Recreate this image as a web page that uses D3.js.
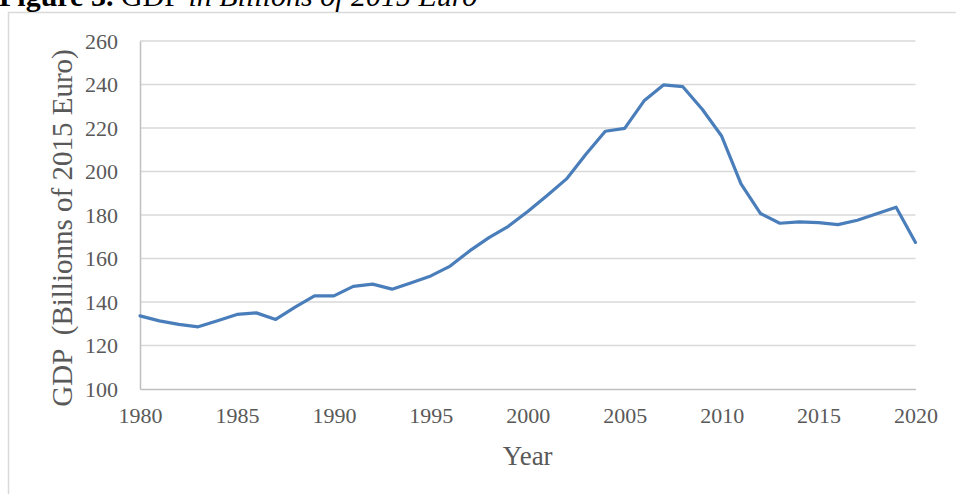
<!DOCTYPE html>
<html>
<head>
<meta charset="utf-8">
<script src="https://cdn.jsdelivr.net/npm/d3@7"></script>
<style>
  html, body { margin: 0; padding: 0; background: #fff; }
  svg { display: block; font-family: "Liberation Serif", "Times New Roman", serif; }
</style>
</head>
<body>
<svg id="chart" width="956" height="494"></svg>
<script>
// Real GDP, billions of 2015 euro, 1980–2020
const years = d3.range(1980, 2021);
const gdp = [
  133.6, 131.3, 129.7, 128.6, 131.4, 134.3, 135.0, 132.0, 137.6, 142.8,
  142.8, 147.2, 148.2, 145.9, 148.9, 152.0, 156.5, 163.5, 169.6, 174.8,
  181.6, 189.0, 196.6, 207.9, 218.5, 219.8, 232.5, 239.8, 239.0, 228.6,
  216.3, 194.3, 180.7, 176.2, 176.8, 176.5, 175.6, 177.6, 180.6, 183.6,
  167.4
];
const xTicks = [1980, 1985, 1990, 1995, 2000, 2005, 2010, 2015, 2020];
const yTicks = [100, 120, 140, 160, 180, 200, 220, 240, 260];

const svg = d3.select("#chart");
const plot = { left: 140, right: 915.5, top: 41, bottom: 389 };

const x = d3.scaleLinear().domain([1980, 2020]).range([plot.left, plot.right]);
const y = d3.scaleLinear().domain([100, 260]).range([plot.bottom, plot.top]);

// outer chart frame
svg.append("rect")
  .attr("x", 8.5).attr("y", 12.5)
  .attr("width", 960).attr("height", 500)
  .attr("fill", "none").attr("stroke", "#d9d9d9").attr("stroke-width", 1.5);

// caption above the frame
const cap = svg.append("text").attr("x", -1).attr("y", 6)
  .attr("font-size", 30).attr("fill", "#000");
cap.append("tspan").attr("font-weight", "bold").text("Figure 3.");
cap.append("tspan").text(" GDP");
cap.append("tspan").attr("font-style", "italic").text(" in Billions of 2015 Euro");

// horizontal gridlines
svg.append("g")
  .selectAll("line")
  .data(yTicks.filter(d => d !== 100))
  .join("line")
  .attr("x1", plot.left).attr("x2", plot.right)
  .attr("y1", d => y(d)).attr("y2", d => y(d))
  .attr("stroke", "#d9d9d9").attr("stroke-width", 1.5);

// y axis
const yAxis = svg.append("g")
  .attr("transform", `translate(${plot.left},0)`)
  .call(d3.axisLeft(y).tickValues(yTicks).tickSize(0).tickPadding(22));
yAxis.select(".domain").attr("stroke", "#bfbfbf").attr("stroke-width", 1.5);
yAxis.selectAll("text")
  .attr("font-family", "Liberation Serif, Times New Roman, serif")
  .attr("font-size", 22).attr("fill", "#595959");

// x axis
const xAxis = svg.append("g")
  .attr("transform", `translate(0,${plot.bottom})`)
  .call(d3.axisBottom(x).tickValues(xTicks).tickFormat(d3.format("d")).tickSize(0).tickPadding(18));
xAxis.select(".domain").attr("stroke", "#bfbfbf").attr("stroke-width", 1.5);
xAxis.selectAll("text")
  .attr("font-family", "Liberation Serif, Times New Roman, serif")
  .attr("font-size", 22).attr("fill", "#595959");

// axis titles
svg.append("text")
  .attr("x", (plot.left + plot.right) / 2).attr("y", 465)
  .attr("text-anchor", "middle")
  .attr("font-size", 27).attr("fill", "#595959")
  .text("Year");

svg.append("text")
  .attr("transform", "translate(72,228) rotate(-90)")
  .attr("text-anchor", "middle")
  .attr("font-size", 29).attr("fill", "#595959")
  .style("white-space", "pre")
  .text("GDP  (Billionns of 2015 Euro)");

// GDP series
const line = d3.line()
  .x((d, i) => x(years[i]))
  .y(d => y(d));

svg.append("path")
  .datum(gdp)
  .attr("d", line)
  .attr("fill", "none")
  .attr("stroke", "#4a7ebb")
  .attr("stroke-width", 3.2)
  .attr("stroke-linejoin", "round")
  .attr("stroke-linecap", "round");
</script>
</body>
</html>
